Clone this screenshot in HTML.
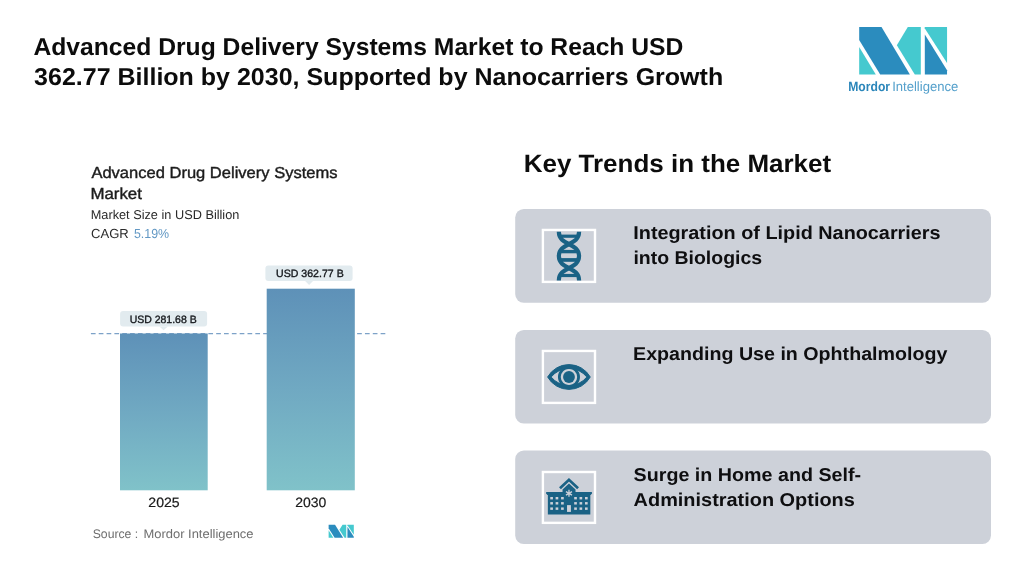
<!DOCTYPE html>
<html>
<head>
<meta charset="utf-8">
<title>Advanced Drug Delivery Systems Market</title>
<style>
  html, body { margin: 0; padding: 0; }
  body {
    width: 1015px; height: 577px; overflow: hidden; position: relative;
    background: #ffffff;
    font-family: "Liberation Sans", sans-serif;
    color: #111;
  }
  svg { position: absolute; overflow: visible; }
</style>
</head>
<body>


<!-- Logo -->
<svg id="logo" style="left:0;top:0" width="1015" height="577" viewBox="0 0 1015 577">
<g transform="translate(859.16,26.94)">
  <polygon fill="#2b8cbe" points="0.00,0.00 22.34,0.00 50.74,47.66 21.04,47.66 0.00,12.99"/>
  <polygon fill="#45c9cf" points="0.00,20.01 0.00,47.66 16.64,47.66"/>
  <polygon fill="#45c9cf" points="48.64,0.00 61.64,0.00 61.64,47.66 55.64,47.66 37.68,18.19"/>
  <polygon fill="#2b8cbe" points="65.68,7.53 65.68,47.66 87.88,47.66 87.88,43.41"/>
  <polygon fill="#45c9cf" points="65.54,0.00 87.88,0.00 87.88,36.13 65.54,1.26"/>
</g>
<g transform="translate(328.6,524.8) scale(0.2868,0.2728)">
  <polygon fill="#2b8cbe" points="0.00,0.00 22.34,0.00 50.74,47.66 21.04,47.66 0.00,12.99"/>
  <polygon fill="#45c9cf" points="0.00,20.01 0.00,47.66 16.64,47.66"/>
  <polygon fill="#45c9cf" points="48.64,0.00 61.64,0.00 61.64,47.66 55.64,47.66 37.68,18.19"/>
  <polygon fill="#2b8cbe" points="65.68,7.53 65.68,47.66 87.88,47.66 87.88,43.41"/>
  <polygon fill="#45c9cf" points="65.54,0.00 87.88,0.00 87.88,36.13 65.54,1.26"/>
</g>
</svg>

<!-- Chart -->

<!--CHART-->
<svg id="chart" style="left:0;top:0" width="1015" height="577" viewBox="0 0 1015 577">
<defs>
<linearGradient id="bg1" x1="0" y1="0" x2="0" y2="1">
<stop offset="0" stop-color="#5e91b8"/><stop offset="0.5" stop-color="#70a9c2"/><stop offset="1" stop-color="#80c2c9"/>
</linearGradient>
</defs>
<path d="M90.9,333.65 H386.2" stroke="#7da2c8" stroke-width="1.2" stroke-dasharray="4.7 3.13" fill="none"/>
<rect x="120" y="333.5" width="87.7" height="156.8" fill="url(#bg1)"/>
<rect x="266.7" y="288.7" width="88.1" height="201.6" fill="url(#bg1)"/>
<g fill="#e2ebef">
<rect x="120.1" y="310.9" width="87" height="15.55" rx="3"/>
<polygon points="159.4,326.4 167.8,326.4 163.6,330.3"/>
<rect x="265.4" y="265.4" width="87.2" height="15.5" rx="3"/>
<polygon points="304.9,280.8 313.3,280.8 309.1,284.9"/>
</g>
</svg>
<!--ENDCHART-->

<!-- Right panel -->

<!--CARDS-->
<svg id="cards" style="left:0;top:0" width="1015" height="577" viewBox="0 0 1015 577">
<g fill="#cdd1d9">
<rect x="515.2" y="209" width="475.8" height="93.7" rx="8.6"/>
<rect x="515.2" y="329.9" width="475.8" height="93.7" rx="8.6"/>
<rect x="515.2" y="450.5" width="475.8" height="93.4" rx="8.6"/>
</g>
<g fill="none" stroke="#ffffff" stroke-width="2.4">
<rect x="542.9" y="229.95" width="52.1" height="51.95"/>
<rect x="542.9" y="350.95" width="52.1" height="51.95"/>
<rect x="542.9" y="472.0" width="52.1" height="50.85"/>
</g>
</svg>
<!--ENDCARDS-->
<!--ICONS-->
<svg id="icons" style="left:0;top:0" width="1015" height="577" viewBox="0 0 1015 577">
<defs><clipPath id="dclip"><rect x="544" y="231.7" width="50" height="48.8"/></clipPath>
<clipPath id="dbt"><path d="M558.85,230 L558.85,232.1 C558.85,245.6 579.05,242.60000000000002 579.05,256.1 C579.05,269.6 558.85,266.6 558.85,280.1 L558.85,282 L579.05,282 L579.05,280.1 C579.05,266.6 558.85,269.6 558.85,256.1 C558.85,242.60000000000002 579.05,245.6 579.05,232.1 L579.05,230 Z"/></clipPath></defs>
<g clip-path="url(#dclip)">
<g fill="none" stroke="#1a6285" stroke-width="4.2">
<path d="M558.85,230 L558.85,232.1 C558.85,245.6 579.05,242.60000000000002 579.05,256.1 C579.05,269.6 558.85,266.6 558.85,280.1 L558.85,282"/>
<path d="M579.05,230 L579.05,232.1 C579.05,245.6 558.85,242.60000000000002 558.85,256.1 C558.85,269.6 579.05,266.6 579.05,280.1 L579.05,282"/>
</g>
<g clip-path="url(#dbt)" fill="#1a6285">
<rect x="558.85" y="234.6" width="20.20" height="3.20"/>
<rect x="558.85" y="249.9" width="20.20" height="3.40"/>
<rect x="558.85" y="258.1" width="20.20" height="3.70"/>
<rect x="558.85" y="273.9" width="20.20" height="3.20"/>
</g>
</g>
<g id="eye">
<path fill="#1a6285" stroke="#1a6285" stroke-width="1" stroke-linejoin="round" fill-rule="evenodd" d="M547.6,377 A24.6,24.6 0 0 1 590.3,377 A24.6,24.6 0 0 1 547.6,377 Z M551.1,377 A23.1,23.1 0 0 0 586.9,377 A23.1,23.1 0 0 0 551.1,377 Z"/>
<circle cx="568.97" cy="377" r="9.6" fill="none" stroke="#1a6285" stroke-width="2.8"/>
<circle cx="568.97" cy="377" r="5.9" fill="#1a6285"/>
</g>
<g id="bld">
<polygon fill="#1a6285" points="547.85,494.81 590.33,494.81 590.33,514.59 547.85,514.59"/>
<polygon fill="#1a6285" points="546.15,491.89 591.91,491.89 591.91,493.59 590.70,495.05 547.36,495.05 546.15,493.59"/>
<polygon fill="#1a6285" points="562.53,492.14 562.53,489.59 568.97,483.52 575.52,489.59 575.52,492.14"/>
<polyline fill="none" stroke="#1a6285" stroke-width="2.7" stroke-linejoin="miter" points="559.98,488.25 568.97,479.75 578.07,488.25"/>
<rect fill="#cdd1d9" x="550.27" y="496.99" width="2.67" height="2.43"/>
<rect fill="#cdd1d9" x="550.27" y="502.09" width="2.67" height="2.43"/>
<rect fill="#cdd1d9" x="550.27" y="507.43" width="2.67" height="2.43"/>
<rect fill="#cdd1d9" x="555.61" y="496.99" width="2.67" height="2.43"/>
<rect fill="#cdd1d9" x="555.61" y="502.09" width="2.67" height="2.43"/>
<rect fill="#cdd1d9" x="555.61" y="507.43" width="2.67" height="2.43"/>
<rect fill="#cdd1d9" x="561.08" y="496.99" width="2.67" height="2.43"/>
<rect fill="#cdd1d9" x="561.08" y="502.09" width="2.67" height="2.43"/>
<rect fill="#cdd1d9" x="561.08" y="507.43" width="2.67" height="2.43"/>
<rect fill="#cdd1d9" x="574.19" y="496.99" width="2.67" height="2.43"/>
<rect fill="#cdd1d9" x="574.19" y="502.09" width="2.67" height="2.43"/>
<rect fill="#cdd1d9" x="574.19" y="507.43" width="2.67" height="2.43"/>
<rect fill="#cdd1d9" x="579.53" y="496.99" width="2.67" height="2.43"/>
<rect fill="#cdd1d9" x="579.53" y="502.09" width="2.67" height="2.43"/>
<rect fill="#cdd1d9" x="579.53" y="507.43" width="2.67" height="2.43"/>
<rect fill="#cdd1d9" x="584.99" y="496.99" width="2.67" height="2.43"/>
<rect fill="#cdd1d9" x="584.99" y="502.09" width="2.67" height="2.43"/>
<rect fill="#cdd1d9" x="584.99" y="507.43" width="2.67" height="2.43"/>
<rect fill="#cdd1d9" x="567.03" y="505.12" width="3.88" height="6.80"/>
<path fill="none" stroke="#cdd1d9" stroke-width="1.3" d="M568.97,489.85 L568.97,496.85 M565.94,491.60 L572.00,495.10 M572.00,491.60 L565.94,495.10"/>
</g>
</svg>
<!--ENDICONS-->
<!--TEXT-->
<svg id="txt" style="left:0;top:0;will-change:transform" width="1015" height="577" viewBox="0 0 1015 577" font-family="'Liberation Sans', sans-serif" text-rendering="geometricPrecision">
<text id="title1" transform="translate(33.41,54.9) scale(1.0116,1)" font-size="24.4" font-weight="bold" fill="#0c0c0c" xml:space="preserve">Advanced Drug Delivery Systems Market to Reach USD</text>
<text id="title2" transform="translate(34.11,84.6) scale(1.0249,1)" font-size="24.4" font-weight="bold" fill="#0c0c0c" xml:space="preserve">362.77 Billion by 2030, Supported by Nanocarriers Growth</text>
<text id="kt" transform="translate(523.68,171.95) scale(1.039,1)" font-size="25.0" font-weight="bold" fill="#0c0c0c" xml:space="preserve">Key Trends in the Market</text>
<text id="c1a" transform="translate(633.26,238.8) scale(1.0663,1)" font-size="18.6" font-weight="bold" fill="#0e0e10" xml:space="preserve">Integration of Lipid Nanocarriers</text>
<text id="c1b" transform="translate(633.38,263.8) scale(1.0475,1)" font-size="18.6" font-weight="bold" fill="#0e0e10" xml:space="preserve">into Biologics</text>
<text id="c2a" transform="translate(633.07,359.8) scale(1.0564,1)" font-size="18.6" font-weight="bold" fill="#0e0e10" xml:space="preserve">Expanding Use in Ophthalmology</text>
<text id="c3a" transform="translate(633.59,480.8) scale(1.0589,1)" font-size="18.6" font-weight="bold" fill="#0e0e10" xml:space="preserve">Surge in Home and Self-</text>
<text id="c3b" transform="translate(633.59,505.8) scale(1.0709,1)" font-size="18.6" font-weight="bold" fill="#0e0e10" xml:space="preserve">Administration Options</text>
<text id="ct1" transform="translate(91.4,178.0) scale(1.0397,1)" font-size="15.9" fill="#1c1c1c" stroke="#1c1c1c" stroke-width="0.4" xml:space="preserve">Advanced Drug Delivery Systems</text>
<text id="ct2" transform="translate(90.38,198.6) scale(1.0611,1)" font-size="15.9" fill="#1c1c1c" stroke="#1c1c1c" stroke-width="0.4" xml:space="preserve">Market</text>
<text id="cs1" transform="translate(90.7,218.9) scale(0.9955,1)" font-size="12.8" fill="#2a2a2a" xml:space="preserve">Market Size in USD Billion</text>
<text id="cs2a" transform="translate(90.99,237.7) scale(0.9978,1)" font-size="13.1" fill="#2a2a2a" xml:space="preserve">CAGR</text>
<text id="cs2b" transform="translate(133.91,237.7) scale(0.9492,1)" font-size="13.1" fill="#6298c4" xml:space="preserve">5.19%</text>
<text id="lt1" transform="translate(129.64,322.8) scale(0.9902,1)" font-size="10.6" fill="#14171b" stroke="#14171b" stroke-width="0.35" xml:space="preserve">USD 281.68 B</text>
<text id="lt2" transform="translate(276.04,277.4) scale(0.9992,1)" font-size="10.6" fill="#14171b" stroke="#14171b" stroke-width="0.35" xml:space="preserve">USD 362.77 B</text>
<text id="y1" transform="translate(148.29,507.3) scale(1.045,1)" font-size="13.5" fill="#1a1a1a" stroke="#1a1a1a" stroke-width="0.2" xml:space="preserve">2025</text>
<text id="y2" transform="translate(295.14,507.3) scale(1.0357,1)" font-size="13.5" fill="#1a1a1a" stroke="#1a1a1a" stroke-width="0.2" xml:space="preserve">2030</text>
<text id="src" transform="translate(92.72,537.9) scale(0.985,1)" font-size="12.4" fill="#6e6e6e" xml:space="preserve">Source :</text>
<text id="src2" transform="translate(143.49,537.9) scale(1.0439,1)" font-size="12.4" fill="#6e6e6e" xml:space="preserve">Mordor Intelligence</text>
<text id="lg1" transform="translate(848.24,91.3) scale(0.9076,1)" font-size="13.4" font-weight="bold" fill="#2b86ba" xml:space="preserve">Mordor</text>
<text id="lg2" transform="translate(892.13,91.3) scale(0.9766,1)" font-size="13.4" fill="#56a1cc" xml:space="preserve">Intelligence</text>
</svg>
<!--ENDTEXT-->
</body>
</html>
